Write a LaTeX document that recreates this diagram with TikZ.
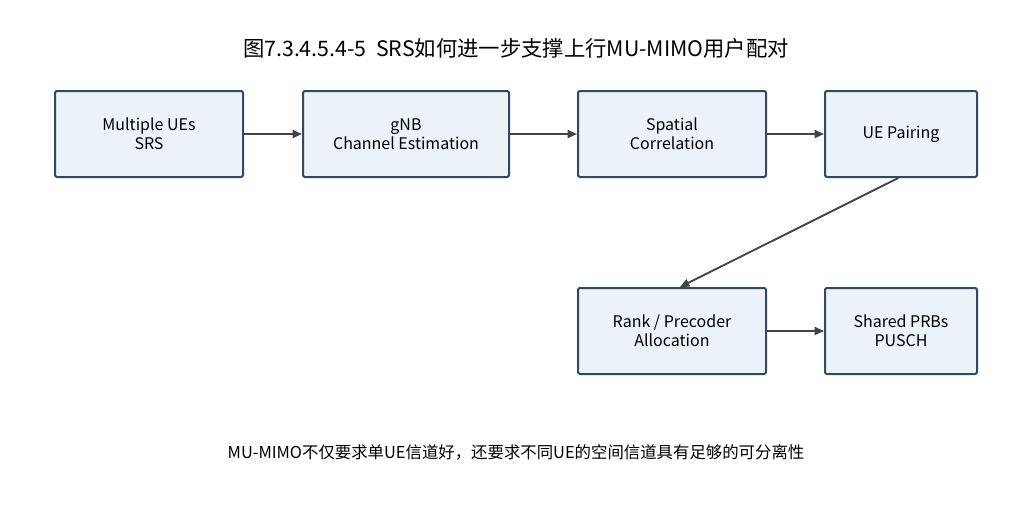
\documentclass[tikz,border=0pt]{standalone}
\usepackage{fontspec}
\setmainfont{Noto Sans CJK SC}
\usepackage{tikz}
\usetikzlibrary{arrows.meta}
\usepackage{xcolor}
\definecolor{boxfill}{HTML}{ECF3F8}
\definecolor{boxline}{HTML}{2E4A66}
\definecolor{arrowgray}{HTML}{444444}

\begin{document}
\begin{tikzpicture}[
			x=0.75pt, y=-0.75pt,
			block/.style={rectangle,draw=boxline,fill=boxfill,line width=1.5pt,
				rounded corners=1.5pt,align=center,minimum height=64.5pt,
				font=\fontsize{12}{14.4}\selectfont,inner sep=0pt},
			flow/.style={-{Triangle[length=7pt,width=6pt]},draw=arrowgray,line width=1.4pt},
			]
			\useasboundingbox (0,0) rectangle (1032,515);
			\node at (516,48) (title) {\fontsize{16}{19}\selectfont 图7.3.4.5.4-5\ \ SRS如何进一步支撑上行MU-MIMO用户配对};
			\node [block,minimum width=141pt] at (149,134) (ues) {Multiple UEs\\ SRS};
			\node [block,minimum width=154.5pt] at (406,134) (gnb) {gNB\\ Channel Estimation};
			\node [block,minimum width=141pt] at (672,134) (corr) {Spatial\\ Correlation};
			\node [block,minimum width=114pt] at (901,134) (pair) {UE Pairing};
			\node [block,minimum width=141pt] at (672,331) (rank) {Rank / Precoder\\ Allocation};
			\node [block,minimum width=114pt] at (901,331) (prb) {Shared PRBs\\ PUSCH};
			\node at (516,452) (note) {\fontsize{12.3}{14}\selectfont MU-MIMO不仅要求单UE信道好，还要求不同UE的空间信道具有足够的可分离性};
			\draw[flow] (ues) -- (gnb);
			\draw[flow] (gnb) -- (corr);
			\draw[flow] (corr) -- (pair);
			\draw[flow] ([xshift=-2pt]pair.south) -- ([xshift=6pt]rank.north);
			\draw[flow] (rank) -- (prb);
		\end{tikzpicture}
\end{document}
